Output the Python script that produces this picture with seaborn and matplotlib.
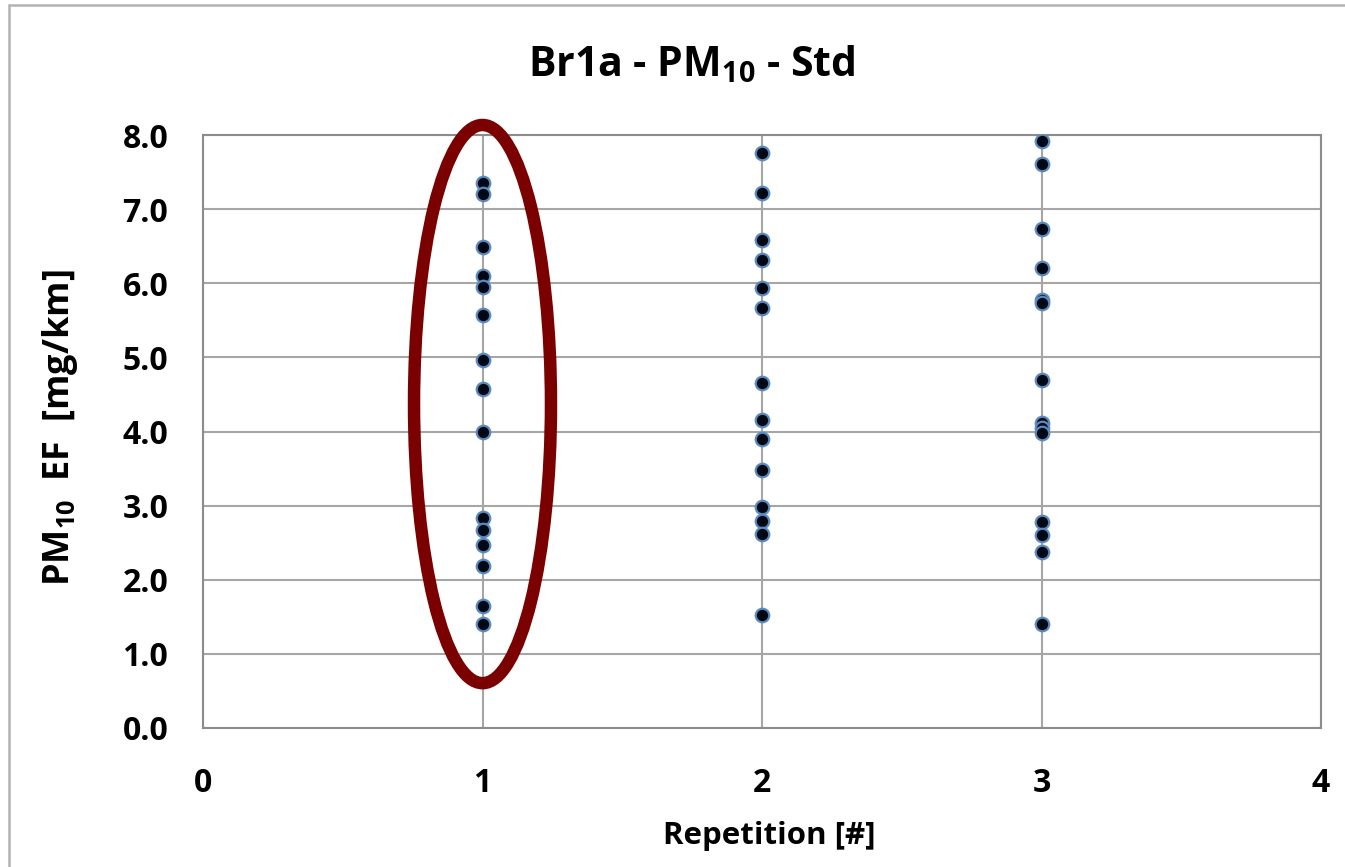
import numpy as np
import pandas as pd
import matplotlib
matplotlib.use("Agg")
import matplotlib.pyplot as plt
from matplotlib.patches import Ellipse
from matplotlib.lines import Line2D
import seaborn as sns

# PM10 emission factors [mg/km], per repetition
rep1 = [7.35, 7.21, 6.49, 6.10, 5.95, 5.57, 4.96, 4.58, 3.99, 2.83, 2.67, 2.47, 2.19, 1.64, 1.40]
rep2 = [7.76, 7.22, 6.58, 6.31, 5.94, 5.66, 4.65, 4.16, 3.90, 3.48, 2.98, 2.79, 2.62, 1.52]
rep3 = [7.92, 7.61, 6.73, 6.21, 5.77, 5.73, 4.70, 4.12, 4.05, 3.98, 2.78, 2.61, 2.38, 1.40]
repetitions = [1, 2, 3]

x_ticks = [0, 1, 2, 3, 4]
y_ticks = [0, 1, 2, 3, 4, 5, 6, 7, 8]

df = pd.DataFrame({
    "rep": np.repeat(repetitions, [len(rep1), len(rep2), len(rep3)]),
    "ef": rep1 + rep2 + rep3,
})

sns.set_style("white")
plt.rcParams["font.family"] = ["Open Sans", "DejaVu Sans"]
plt.rcParams["font.weight"] = "bold"
plt.rcParams["mathtext.default"] = "regular"
plt.rcParams["text.color"] = "black"
plt.rcParams["xtick.color"] = "black"
plt.rcParams["ytick.color"] = "black"

fig = plt.figure(figsize=(13.45, 8.67), dpi=100)
ax = fig.add_axes([203 / 1345, 1 - 728 / 867, (1321 - 203) / 1345, (728 - 135) / 867])

grid_col = "#a6a6a6"
for v in x_ticks:
    ax.axvline(v, color=grid_col, lw=1.5, zorder=0)
for v in y_ticks:
    ax.axhline(v, color=grid_col, lw=1.5, zorder=0)

sns.scatterplot(data=df, x="rep", y="ef", ax=ax, color="#000814",
                edgecolor="#5a8ac0", linewidth=1.6, s=95, zorder=3, legend=False)

# highlight of repetition 1
ax.add_patch(Ellipse((1.0, 4.37), 0.49, 7.53, fill=False,
                     edgecolor="#7b0000", lw=9, zorder=4, clip_on=False))

ax.set_xlim(0, 4)
ax.set_ylim(0, 8)
ax.set_xticks(x_ticks)
ax.set_yticks(y_ticks)
ax.set_xticklabels([str(v) for v in x_ticks], fontsize=23, fontweight="bold")
ax.set_yticklabels([f"{v:.1f}" for v in y_ticks], fontsize=23, fontweight="bold")
ax.tick_params(axis="both", length=0)
ax.tick_params(axis="x", pad=28)
ax.tick_params(axis="y", pad=25)
for sp in ax.spines.values():
    sp.set_color("#8c8c8c")
    sp.set_linewidth(1.5)
ax.set_xlabel("")
ax.set_ylabel("")

fig.text(0.514, 1 - 65 / 867, "Br1a - PM$_{10}$ - Std", ha="center", va="center",
         fontsize=29.5, fontweight="bold")
fig.text(769 / 1345, 1 - 836 / 867, "Repetition [#]", ha="center", va="center",
         fontsize=22.5, fontweight="bold")
fig.text(60 / 1345, 1 - 428 / 867, "PM$_{10}$  EF  [mg/km]", ha="center", va="center",
         rotation=90, fontsize=26, fontweight="bold")

# outer chart frame
fig.add_artist(Line2D([9 / 1345, 9 / 1345], [0, 1 - 5 / 867], color="#b3b3b3", lw=1.8))
fig.add_artist(Line2D([9 / 1345, 1], [1 - 5 / 867, 1 - 5 / 867], color="#b3b3b3", lw=1.8))

fig.savefig("out.png", dpi=100)
